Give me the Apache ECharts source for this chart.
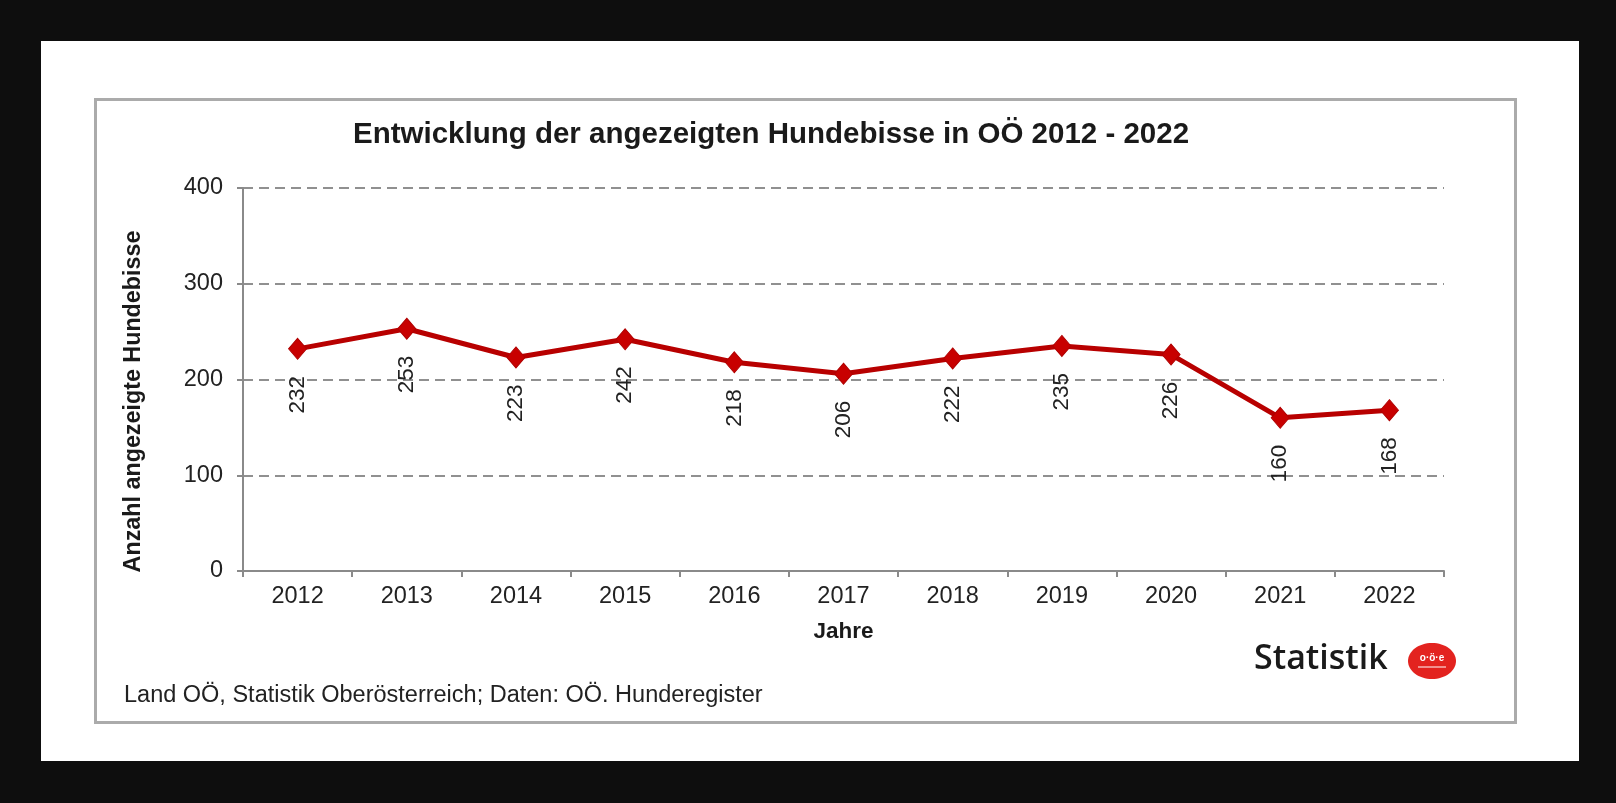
<!DOCTYPE html>
<html><head><meta charset="utf-8">
<script src="https://cdn.jsdelivr.net/npm/echarts@6/dist/echarts.min.js"></script>
<style>
html,body{margin:0;padding:0;background:#0e0e0e;width:1616px;height:803px;overflow:hidden;}
#page{position:absolute;left:41px;top:41px;width:1538px;height:720px;background:#fff;}
#frame{position:absolute;left:94px;top:98px;width:1417px;height:620px;border:3px solid #ababab;background:#fff;}
#chart{position:absolute;left:0;top:0;width:1616px;height:803px;}
</style></head><body>
<div id="page"></div><div id="frame"></div>
<div id="chart"></div>
<script>
const years = ['2012','2013','2014','2015','2016','2017','2018','2019','2020','2021','2022'];
const bites = [232,253,223,242,218,206,222,235,226,160,168];
const yTicks = [0,100,200,300,400];
const titleText = 'Entwicklung der angezeigten Hundebisse in OÖ 2012 - 2022';
const yName = 'Anzahl angezeigte Hundebisse';
const xName = 'Jahre';
const sourceText = 'Land OÖ, Statistik Oberösterreich; Daten: OÖ. Hunderegister';
const logoText = 'Statistik';

const FONT = '"Liberation Sans", Arial, sans-serif';
const chart = echarts.init(document.getElementById('chart'), null, {renderer:'canvas'});
chart.setOption({
  backgroundColor: 'transparent',
  animation: false,
  title: {
    text: titleText, left: 353, top: 120, padding: 0,
    textStyle: {fontFamily: FONT, fontSize: 29.5, fontWeight: 'bold', color: '#1a1a1a'}
  },
  grid: {left: 243, right: 172, top: 188, bottom: 232, containLabel: false},
  xAxis: {
    type: 'category', data: years, boundaryGap: true,
    name: xName, nameLocation: 'middle', nameGap: 49,
    nameTextStyle: {fontFamily: FONT, fontSize: 22.5, fontWeight: 'bold', color: '#1a1a1a'},
    axisLine: {lineStyle: {color: '#8a8a8a', width: 2}},
    axisTick: {show: true, alignWithLabel: false, length: 6, inside: false, lineStyle: {color: '#8a8a8a', width: 2}},
    axisLabel: {margin: 14, fontFamily: FONT, fontSize: 23.5, color: '#222'},
    splitLine: {show: false}
  },
  yAxis: {
    type: 'value', min: yTicks[0], max: yTicks[yTicks.length-1], interval: 100,
    name: yName, nameLocation: 'middle', nameGap: 98, nameRotate: 90,
    nameTextStyle: {fontFamily: FONT, fontSize: 23.3, fontWeight: 'bold', color: '#1a1a1a', padding: [0, 44, 0, 0]},
    axisLine: {show: true, lineStyle: {color: '#8a8a8a', width: 2}},
    axisTick: {show: true, length: 6, lineStyle: {color: '#8a8a8a', width: 2}},
    axisLabel: {margin: 20, fontFamily: FONT, fontSize: 23.5, color: '#222'},
    splitLine: {show: true, lineStyle: {color: '#909090', width: 2, type: [10, 6]}}
  },
  series: [{
    type: 'line', data: bites,
    symbol: 'diamond', symbolSize: [18, 21],
    lineStyle: {color: '#b80000', width: 5},
    itemStyle: {color: '#c80000', borderColor: '#b00000', borderWidth: 1},
    label: {
      show: true, position: 'bottom', distance: 17, rotate: 90,
      align: 'right', verticalAlign: 'middle', offset: [1, 0],
      fontFamily: FONT, fontSize: 22.5, color: '#222'
    },
    z: 5
  }],
  graphic: [
    {type: 'text', left: 124, top: 684, style: {text: sourceText, font: '23.5px ' + FONT, fill: '#222'}},
    {type: 'text', left: 1254, top: 642, style: {text: logoText, font: '600 34px "Open Sans", "Noto Sans", sans-serif', fill: '#1a1a1a'}},
    {type: 'ellipse', shape: {cx: 1432, cy: 661, rx: 24, ry: 18}, style: {fill: '#e3231f'}},
    {type: 'text', x: 1432, y: 658, style: {text: 'o·ö·e', font: 'bold 10px ' + FONT, fill: '#fff', align: 'center', verticalAlign: 'middle'}},
    {type: 'line', shape: {x1: 1418, y1: 667, x2: 1446, y2: 667}, style: {stroke: '#fff', lineWidth: 1}}
  ]
});
</script>
</body></html>
